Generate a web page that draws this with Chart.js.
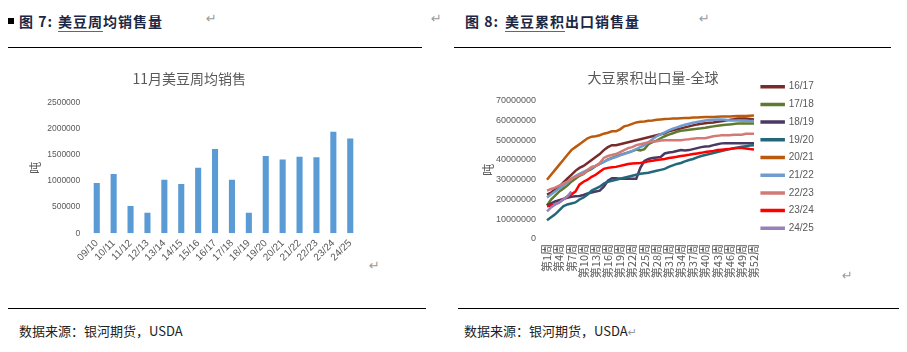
<!DOCTYPE html>
<html>
<head>
<meta charset="utf-8">
<script src="https://cdn.jsdelivr.net/npm/chart.js@4.4.1/dist/chart.umd.min.js"></script>
<style>
body { margin: 0; width: 907px; height: 352px; background: #fff; position: relative; overflow: hidden; font-family: "Noto Sans CJK SC", sans-serif; }
.abs { position: absolute; }
.head { font-size: 14px; font-weight: bold; color: #1b2744; top: 11px; white-space: nowrap; letter-spacing: 1px; }
.rule { height: 1px; background: #000; }
.src { font-size: 13px; color: #222; top: 321px; white-space: nowrap; }
.ret { color: #9a9a9a; font-size: 13px; font-family: "DejaVu Sans", sans-serif; }
.ul { border-bottom: 1.5px solid #2f6ed8; }
</style>
</head>
<body>
<!-- headers -->
<div class="abs" style="left:8px;top:18px;width:6px;height:6px;background:#000"></div>
<div class="abs head" style="left:19px">图 7:</div>
<div class="abs head" style="left:58px"><span class="ul">美豆周</span>均销售量</div>
<div class="abs ret" style="left:206px;top:11px">↵</div>
<div class="abs ret" style="left:431px;top:11px">↵</div>
<div class="abs rule" style="left:8px;top:47px;width:414px"></div>

<div class="abs head" style="left:465px">图 8:</div>
<div class="abs head" style="left:505px"><span class="ul">美豆累积</span>出口销售量</div>
<div class="abs ret" style="left:699px;top:11px">↵</div>
<div class="abs rule" style="left:454px;top:47px;width:437px"></div>

<!-- charts -->
<div class="abs" style="left:20px;top:60px;width:346px;height:230px"><canvas id="barChart"></canvas></div>
<div class="abs" style="left:460px;top:60px;width:386px;height:230px"><canvas id="lineChart"></canvas></div>
<div class="abs ret" style="left:369px;top:258px">↵</div>
<div class="abs ret" style="left:842px;top:268px">↵</div>

<!-- footers -->
<div class="abs rule" style="left:8px;top:308px;width:418px"></div>
<div class="abs rule" style="left:458px;top:308px;width:441px"></div>
<div class="abs src" style="left:19px">数据来源：银河期货，USDA</div>
<div class="abs src" style="left:464px">数据来源：银河期货，USDA<span class="ret" style="font-size:11px">↵</span></div>

<script>
// ---- 图7 data: 11月美豆周均销售 (吨)
const barCats = ['09/10', '10/11', '11/12', '12/13', '13/14', '14/15', '15/16', '16/17',
                 '17/18', '18/19', '19/20', '20/21', '21/22', '22/23', '23/24', '24/25'];
const barVals = [960000, 1130000, 520000, 390000, 1020000, 940000, 1250000, 1610000,
                 1020000, 390000, 1475000, 1410000, 1460000, 1450000, 1940000, 1810000];
const barTicks = [0, 500000, 1000000, 1500000, 2000000, 2500000];

// ---- 图8 data: 大豆累积出口量-全球 (百万吨, axis shows 吨)
const weekLabels = ['第1周', '第2周', '第3周', '第4周', '第5周', '第6周', '第7周', '第8周', '第9周', '第10周',
  '第11周', '第12周', '第13周', '第14周', '第15周', '第16周', '第17周', '第18周', '第19周', '第20周',
  '第21周', '第22周', '第23周', '第24周', '第25周', '第26周', '第27周', '第28周', '第29周', '第30周',
  '第31周', '第32周', '第33周', '第34周', '第35周', '第36周', '第37周', '第38周', '第39周', '第40周',
  '第41周', '第42周', '第43周', '第44周', '第45周', '第46周', '第47周', '第48周', '第49周', '第50周',
  '第51周', '第52周'];
const seasons = ['16/17', '17/18', '18/19', '19/20', '20/21', '21/22', '22/23', '23/24', '24/25'];
const colors = ['#772b2b', '#5e7a2e', '#4a3a63', '#23687a', '#bb5a0c', '#6f9bd0', '#d37a77', '#ff0000', '#9681b8'];

const s1617 = [22.5, 23.5, 25, 26.5, 28.5, 30.5, 32.5, 34.5, 36, 37,
  38.5, 40, 41.5, 43, 45, 46.5, 47.5, 47.5, 48, 48.5,
  49, 49.5, 50, 50.5, 51, 51.5, 52, 52.5, 53, 53.5,
  54.5, 55, 55.5, 56, 56.5, 57, 57.5, 58, 58.3, 58.6,
  58.8, 59, 59.3, 59.6, 60, 60.3, 60.6, 61, 61, 61, 60.8, 60.5];
const s1718 = [17, 20, 22, 24, 25.5, 27, 29, 30.5, 32, 33,
  34.5, 35.5, 37, 38, 39, 40.3, 41, 41.8, 42.5, 43.2,
  43.8, 44.5, 45.3, 44.8, 45.5, 48, 49, 49.8, 51, 52,
  52.8, 53.5, 54.3, 54.8, 55, 55.3, 55.6, 55.8, 56, 56.3,
  56.7, 57, 57.3, 57.6, 57.8, 58, 58.2, 58.4, 58.5, 58.5, 58.5, 58.5];
const s1819 = [17, 18, 19, 19.7, 20.3, 20.8, 21.4, 21.6, 21.8, 22.3,
  23, 23.5, 24, 24.5, 26.5, 29.5, 30.8, 30.7, 30.5, 30.5,
  30.5, 30.5, 30.5, 36, 39.5, 40.5, 41, 41.3, 41.5, 43.3,
  43.8, 44, 44.5, 45, 44.8, 45, 45.5, 46, 46.5, 46.8,
  47, 47.5, 48, 48.4, 48.5, 48.5, 48.5, 48.5, 48.5, 48.5, 48.5, 48.5];
const s1920 = [9.5, 11, 12.5, 14.5, 16.5, 17.5, 18, 18.5, 20, 21,
  22.5, 24.5, 25.5, 26.5, 28, 29, 29.5, 30, 30.5, 31,
  31.5, 32, 32.5, 33, 33.3, 33.5, 34, 34.5, 35, 35.5,
  36.5, 37.3, 38, 38.5, 39.3, 40, 40.5, 41.3, 42, 42.5,
  43, 43.5, 44, 44.5, 45, 45.5, 46, 46.3, 46.7, 47, 47.3, 47.5];
const s2021 = [30, 32.5, 35, 37.5, 40, 42.5, 45, 46.5, 48, 49.5,
  51, 51.8, 52, 52.5, 53.3, 53.8, 54.5, 54.5, 55.5, 57,
  57.5, 58.3, 59, 59.3, 59.5, 59.8, 60, 60.3, 60.5, 60.7,
  60.8, 61, 61, 61.1, 61.2, 61.3, 61.5, 61.5, 61.6, 61.7,
  61.8, 61.8, 61.9, 62, 62, 62, 62.1, 62.2, 62.2, 62.3, 62.4, 62.5];
const s2122 = [21, 22.5, 24, 25.6, 27, 28.5, 30.5, 31.8, 33, 34,
  35, 36, 37, 38, 39, 40, 40.8, 41.5, 42.3, 43,
  43.8, 44.5, 45.5, 46.5, 47.5, 49, 50.5, 52, 53, 54,
  55, 55.8, 56.5, 57.2, 57.8, 58.3, 58.8, 59.2, 59.6, 60,
  60.2, 60.4, 60.5, 60.5, 60.3, 60, 60, 60, 59.8, 59.8, 59.7, 59.7];
const s2223 = [24.5, 25.3, 26, 27, 28, 29, 30.5, 31.5, 32.5, 33,
  35, 36.5, 37, 38.5, 41, 42, 42.5, 43, 44, 45,
  46, 46.5, 47.5, 48, 48.5, 49, 49.3, 49.5, 49.8, 50,
  50, 50, 50, 50, 50.3, 50.5, 50.8, 51, 51, 51,
  51.5, 52, 52.2, 52.5, 52.5, 52.5, 52.8, 52.8, 52.8, 53.3, 53.3, 53.3];
const s2324 = [16.5, 17, 17.5, 18.5, 20, 21.5, 22.5, 24, 27.5, 29,
  30, 31.5, 32.5, 34, 35.5, 36, 36.3, 36.5, 37, 37.5,
  38, 38.2, 38.4, 38.5, 38.8, 39.3, 39.6, 40, 40.2, 40.5,
  41, 41.3, 41.6, 42, 42.3, 42.6, 43, 43.3, 43.6, 44,
  44.3, 44.6, 45, 45.2, 45.4, 45.6, 45.8, 46, 46, 45.8, 45.5, 45.3];
const s2425 = [14, 16, 17.5, 18.5, 20, 21.5, 24];
const seriesData = [s1617, s1718, s1819, s1920, s2021, s2122, s2223, s2324, s2425];
const lineTicks = [0, 10, 20, 30, 40, 50, 60, 70];
const UNIT = 1000000;

const grey = '#595959';
const numFont = '"Liberation Sans", "Noto Sans CJK SC", sans-serif';
const cjkFont = '"Noto Sans CJK SC", sans-serif';

// ---- bar chart
new Chart(document.getElementById('barChart'), {
  type: 'bar',
  data: {
    labels: barCats,
    datasets: [{
      data: barVals,
      backgroundColor: '#5b9bd5',
      barPercentage: 0.36,
      categoryPercentage: 1.0
    }]
  },
  options: {
    responsive: true,
    maintainAspectRatio: false,
    animation: false,
    layout: { padding: { left: 0, right: 7.3, top: 0, bottom: 0 } },
    plugins: {
      legend: { display: false },
      tooltip: { enabled: false },
      title: {
        display: true,
        text: '11月美豆周均销售',
        color: grey,
        font: { family: cjkFont, size: 14, weight: 'normal' },
        padding: { top: 10.6, bottom: 14.9 }
      }
    },
    scales: {
      x: {
        grid: { display: false, drawTicks: false },
        border: { display: false },
        ticks: { color: grey, font: { family: numFont, size: 10 }, minRotation: 45, maxRotation: 45, padding: 4, autoSkip: false },
        afterFit: (s) => { s.height = 56.7; }
      },
      y: {
        min: 0,
        max: 2500000,
        grid: { display: false, drawTicks: false },
        border: { display: false },
        afterBuildTicks: (s) => { s.ticks = barTicks.map(v => ({ value: v })); },
        ticks: { color: grey, font: { family: numFont, size: 8.5 }, padding: 8, callback: (v) => String(v) },
        title: { display: true, text: '吨', color: grey, font: { family: cjkFont, size: 12 }, padding: { top: 8, bottom: 0 } },
        afterFit: (s) => { s.width = 68.3; }
      }
    }
  }
});

// ---- line chart
new Chart(document.getElementById('lineChart'), {
  type: 'line',
  data: {
    labels: weekLabels,
    datasets: seasons.map((name, i) => ({
      label: name,
      data: seriesData[i],
      borderColor: colors[i],
      backgroundColor: colors[i],
      borderWidth: 2.5,
      pointRadius: 0,
      tension: 0,
      order: seasons.length - i
    }))
  },
  options: {
    responsive: true,
    maintainAspectRatio: false,
    animation: false,
    layout: { padding: { left: 22.3, right: 22.3, top: 0, bottom: 0 } },
    plugins: {
      tooltip: { enabled: false },
      title: {
        display: true,
        text: '大豆累积出口量-全球',
        color: grey,
        font: { family: cjkFont, size: 14, weight: 'normal' },
        padding: { top: 9.6, bottom: 14.3 }
      },
      legend: {
        position: 'right',
        align: 'start',
        title: { display: true, text: ' ', font: { size: 10, lineHeight: 1.4 }, padding: 0 },
        labels: {
          color: grey,
          font: { family: numFont, size: 10 },
          boxWidth: 22,
          boxHeight: 1,
          padding: 7.7,
          sort: (a, b) => a.datasetIndex - b.datasetIndex
        }
      }
    },
    scales: {
      x: {
        grid: { display: false, drawTicks: false },
        border: { display: false },
        ticks: {
          color: grey,
          font: { family: cjkFont, size: 11 },
          minRotation: 90,
          maxRotation: 90,
          autoSkip: false,
          padding: 5,
          callback: function (v, i) { return i % 3 === 0 ? this.getLabelForValue(v) : ''; }
        },
        afterFit: (s) => { s.height = 51; }
      },
      y: {
        min: 0,
        max: 70,
        grid: { display: false, drawTicks: false },
        border: { display: false },
        afterBuildTicks: (s) => { s.ticks = lineTicks.map(v => ({ value: v })); },
        ticks: { color: grey, font: { family: numFont, size: 9 }, padding: 11, callback: (v) => String(v * UNIT) },
        title: { display: true, text: '吨', color: grey, font: { family: cjkFont, size: 12, lineHeight: 1 }, padding: { top: 0, bottom: 0 } },
        afterFit: (s) => { s.width = 64.7; }
      }
    }
  }
});
</script>
</body>
</html>
